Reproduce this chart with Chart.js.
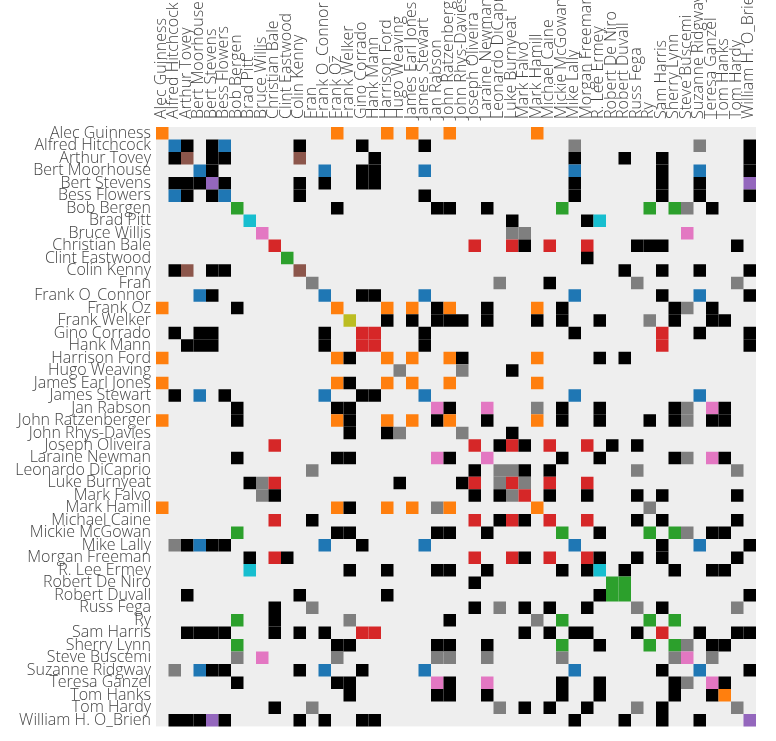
<!DOCTYPE html>
<html>
<head>
<meta charset="utf-8">
<script src="https://cdn.jsdelivr.net/npm/chart.js@4/dist/chart.umd.min.js"></script>
<style>
  html, body { margin: 0; padding: 0; background: #fff; }
  canvas { display: block; }
</style>
</head>
<body>
<canvas id="c" width="776" height="741"></canvas>
<script>
// Actors (rows = columns, same order)
const names = [
  "Alec Guinness","Alfred Hitchcock","Arthur Tovey","Bert Moorhouse","Bert Stevens",
  "Bess Flowers","Bob Bergen","Brad Pitt","Bruce Willis","Christian Bale",
  "Clint Eastwood","Colin Kenny","Fran","Frank O_Connor","Frank Oz",
  "Frank Welker","Gino Corrado","Hank Mann","Harrison Ford","Hugo Weaving",
  "James Earl Jones","James Stewart","Jan Rabson","John Ratzenberger","John Rhys-Davies",
  "Joseph Oliveira","Laraine Newman","Leonardo DiCaprio","Luke Burnyeat","Mark Falvo",
  "Mark Hamill","Michael Caine","Mickie McGowan","Mike Lally","Morgan Freeman",
  "R. Lee Ermey","Robert De Niro","Robert Duvall","Russ Fega","Ry",
  "Sam Harris","Sherry Lynn","Steve Buscemi","Suzanne Ridgway","Teresa Ganzel",
  "Tom Hanks","Tom Hardy","William H. O_Brien"
];

// Cell colour keys
const palette = {
  O: "#ff7f0e", B: "#1f77b4", N: "#8c564b", P: "#9467bd", E: "#2ca02c",
  C: "#17becf", I: "#e377c2", R: "#d62728", G: "#7f7f7f", L: "#bcbd22", K: "#000000"
};

// Upper triangle (incl. diagonal) of the symmetric co-occurrence matrix: row -> [column, colour key]
const upper = [
  [[0,'O'],[14,'O'],[18,'O'],[20,'O'],[23,'O'],[30,'O']],
  [[1,'B'],[2,'K'],[4,'K'],[5,'B'],[11,'K'],[16,'K'],[21,'K'],[33,'G'],[43,'G'],[47,'K']],
  [[2,'N'],[4,'K'],[5,'K'],[11,'N'],[17,'K'],[33,'K'],[37,'K'],[40,'K'],[47,'K']],
  [[3,'B'],[4,'K'],[13,'B'],[16,'K'],[17,'K'],[21,'B'],[33,'B'],[40,'K'],[43,'B'],[47,'K']],
  [[4,'P'],[5,'K'],[11,'K'],[13,'K'],[16,'K'],[17,'K'],[33,'K'],[40,'K'],[43,'K'],[47,'P']],
  [[5,'B'],[11,'K'],[21,'K'],[33,'K'],[40,'K'],[43,'K'],[47,'K']],
  [[6,'E'],[14,'K'],[22,'K'],[23,'K'],[26,'K'],[32,'E'],[39,'E'],[41,'E'],[42,'G'],[44,'K']],
  [[7,'C'],[28,'K'],[34,'K'],[35,'C']],
  [[8,'I'],[28,'G'],[29,'G'],[42,'I']],
  [[9,'R'],[25,'R'],[28,'R'],[29,'K'],[31,'R'],[34,'R'],[38,'K'],[39,'K'],[40,'K'],[46,'K']],
  [[10,'E'],[34,'K']],
  [[11,'N'],[37,'K'],[40,'K'],[43,'K'],[47,'K']],
  [[12,'G'],[27,'G'],[31,'K'],[38,'G'],[46,'G']],
  [[13,'B'],[16,'K'],[17,'K'],[21,'B'],[33,'B'],[40,'K'],[43,'B'],[47,'K']],
  [[14,'O'],[18,'O'],[20,'O'],[22,'K'],[23,'O'],[26,'K'],[30,'O'],[32,'K'],[41,'K'],[42,'G'],[44,'K']],
  [[15,'L'],[18,'K'],[20,'K'],[22,'K'],[23,'K'],[24,'K'],[26,'K'],[30,'K'],[32,'K'],[35,'K'],[39,'G'],[41,'K'],[44,'K'],[45,'K']],
  [[16,'R'],[17,'R'],[21,'K'],[33,'K'],[40,'R'],[43,'K'],[47,'K']],
  [[17,'R'],[21,'K'],[40,'R'],[47,'K']],
  [[18,'O'],[20,'O'],[23,'O'],[24,'K'],[30,'O'],[35,'K'],[37,'K']],
  [[19,'G'],[24,'G'],[28,'K']],
  [[20,'O'],[23,'O'],[30,'O']],
  [[21,'B'],[33,'B'],[43,'B']],
  [[22,'I'],[23,'K'],[26,'I'],[30,'G'],[32,'K'],[35,'K'],[41,'K'],[42,'G'],[44,'I'],[45,'K']],
  [[23,'O'],[26,'K'],[30,'O'],[32,'K'],[35,'K'],[39,'K'],[41,'K'],[42,'G'],[44,'K'],[45,'K']],
  [[24,'G'],[28,'K']],
  [[25,'R'],[27,'K'],[28,'R'],[29,'K'],[31,'R'],[34,'R'],[36,'K'],[38,'K']],
  [[26,'I'],[32,'K'],[35,'K'],[41,'K'],[42,'G'],[44,'I'],[45,'K']],
  [[27,'G'],[28,'G'],[29,'K'],[31,'K'],[38,'G'],[46,'G']],
  [[28,'R'],[29,'G'],[31,'R'],[34,'R']],
  [[29,'R'],[31,'K'],[34,'K'],[38,'K'],[40,'K'],[46,'K']],
  [[30,'O'],[39,'G']],
  [[31,'R'],[34,'R'],[38,'K'],[40,'K'],[46,'K']],
  [[32,'E'],[35,'K'],[39,'E'],[41,'E'],[42,'G'],[44,'K'],[45,'K']],
  [[33,'B'],[40,'K'],[43,'B'],[47,'K']],
  [[34,'R'],[35,'K'],[38,'K'],[40,'K'],[46,'K']],
  [[35,'C'],[37,'K'],[41,'K'],[44,'K'],[45,'K']],
  [[36,'E'],[37,'E']],
  [[37,'E'],[47,'K']],
  [[38,'G'],[40,'K'],[46,'G']],
  [[39,'E'],[41,'E']],
  [[40,'R'],[43,'K'],[46,'K'],[47,'K']],
  [[41,'E'],[42,'G'],[44,'K'],[45,'K']],
  [[42,'I'],[44,'G']],
  [[43,'B'],[47,'K']],
  [[44,'I'],[45,'K']],
  [[45,'O']],
  [[46,'G']],
  [[47,'P']]
];

// Build symmetric cell list (category values by actor name)
const cells = [];
const cellColors = [];
upper.forEach((row, i) => {
  row.forEach(([j, key]) => {
    cells.push({ x: names[j], y: names[i] });
    cellColors.push(palette[key]);
    if (i !== j) {
      cells.push({ x: names[i], y: names[j] });
      cellColors.push(palette[key]);
    }
  });
});

const bgPlugin = {
  id: 'matrixBg',
  beforeDatasetsDraw(chart) {
    const a = chart.chartArea;
    const ctx = chart.ctx;
    ctx.save();
    ctx.fillStyle = '#eeeeee';
    ctx.fillRect(a.left, a.top, a.right - a.left, a.bottom - a.top);
    ctx.restore();
  }
};

const labelFont = { family: "'Open Sans', sans-serif", size: 16, weight: '300' };
const cellRadius = (ctx) => {
  const a = ctx.chart.chartArea;
  if (!a) return 0;
  return (a.right - a.left) / names.length / 2 / Math.SQRT1_2;
};

new Chart(document.getElementById('c'), {
  type: 'scatter',
  data: {
    datasets: [{
      data: cells,
      pointStyle: 'rect',
      backgroundColor: cellColors,
      borderWidth: 0,
      pointRadius: cellRadius,
      pointHoverRadius: cellRadius
    }]
  },
  options: {
    responsive: false,
    animation: false,
    events: [],
    layout: { padding: { top: 0, left: 0, right: 20, bottom: 14 } },
    plugins: { legend: { display: false }, tooltip: { enabled: false } },
    scales: {
      x: {
        type: 'category',
        labels: names,
        position: 'top',
        offset: true,
        z: 1,
        grid: { offset: true, color: '#ffffff', lineWidth: 1.5, drawTicks: false },
        border: { display: true, color: '#ffffff', width: 1.5 },
        ticks: {
          autoSkip: false, minRotation: 90, maxRotation: 90,
          padding: 8, labelOffset: 18, color: '#444', font: labelFont
        },
        afterFit: (s) => { s.height = 127; }
      },
      y: {
        type: 'category',
        labels: names,
        position: 'left',
        offset: true,
        z: 1,
        grid: { offset: true, color: '#ffffff', lineWidth: 1.5, drawTicks: false },
        border: { display: true, color: '#ffffff', width: 1.5 },
        ticks: {
          autoSkip: false, padding: 5, color: '#444', font: labelFont
        },
        afterFit: (s) => { s.width = 156; }
      }
    }
  },
  plugins: [bgPlugin]
});
</script>
</body>
</html>
